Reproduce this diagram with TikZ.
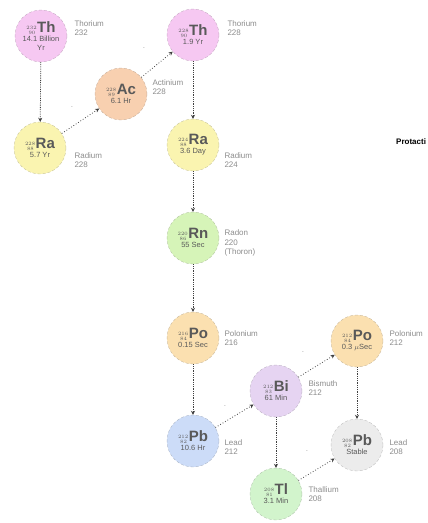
\documentclass[tikz,border=0pt]{standalone}
\usepackage{fontspec}
\setsansfont{Liberation Sans}
\usetikzlibrary{arrows.meta}
\definecolor{thpink}{HTML}{F6C8F2}
\definecolor{acorange}{HTML}{F8D0B0}
\definecolor{rayellow}{HTML}{FAF4B0}
\definecolor{rngreen}{HTML}{D6F4B8}
\definecolor{poorange}{HTML}{FBE0B0}
\definecolor{pbblue}{HTML}{CCDCF8}
\definecolor{bipurple}{HTML}{E6D4F2}
\definecolor{pbgrey}{HTML}{ECECEC}
\definecolor{tlgreen}{HTML}{D2F4CC}
\newcommand{\isotope}[3]{{\fontsize{7.5}{8}\selectfont$^{#1}_{\;#2}$}{\fontsize{15}{15}\selectfont\textbf{#3}}}

\begin{document}
\begin{tikzpicture}[x=1pt,y=-1pt,
  nuclide/.style={circle,minimum size=52pt,inner sep=0pt,draw=#1!60!gray,densely dashed,thin,
    fill=#1,align=center,text=black!65,font=\sffamily\fontsize{7.5}{9}\selectfont},
  elname/.style={anchor=west,align=left,text=black!45,font=\sffamily\fontsize{8}{9.5}\selectfont},
  alphadecay/.style={densely dotted,thick,black!75,-{Stealth[length=4pt,width=4pt]}},
  betadecay/.style={dotted,thick,black!75,-{Stealth[length=4pt,width=4pt]}},
  tickmark/.style={text=black!50,font=\sffamily\tiny}]
   \useasboundingbox (0,0) rectangle (428,523);
   % thorium series, upper part
   \node[nuclide=thpink] (th232) at (41,36) {\isotope{232}{90}{Th}\\14.1 Billion\\Yr};
   \node[nuclide=rayellow] (ra228) at (40,148) {\isotope{228}{88}{Ra}\\5.7 Yr};
   \node[nuclide=acorange] (ac228) at (121,94) {\isotope{228}{89}{Ac}\\6.1 Hr};
   \node[nuclide=thpink] (th228) at (193,35) {\isotope{228}{90}{Th}\\1.9 Yr};
   \node[nuclide=rayellow] (ra224) at (193,145) {\isotope{224}{88}{Ra}\\3.6 Day};
   \node[nuclide=rngreen] (rn220) at (193,238) {\isotope{220}{86}{Rn}\\55 Sec};
   \node[nuclide=poorange] (po216) at (193,338) {\isotope{216}{84}{Po}\\0.15 Sec};
   % branch
   \node[nuclide=pbblue] (pb212) at (193,441) {\isotope{212}{82}{Pb}\\10.6 Hr};
   \node[nuclide=bipurple] (bi212) at (276,391) {\isotope{212}{83}{Bi}\\61 Min};
   \node[nuclide=poorange] (po212) at (357,341) {\isotope{212}{84}{Po}\\0.3 $\mu$Sec};
   \node[nuclide=pbgrey] (pb208) at (357,445) {\isotope{208}{82}{Pb}\\Stable};
   \node[nuclide=tlgreen] (tl208) at (276,494) {\isotope{208}{81}{Tl}\\3.1 Min};

   \node[elname] (th232name) at (71,28) {Thorium\\232};
   \node[elname] (ra228name) at (71,160) {Radium\\228};
   \node[elname] (ac228name) at (149,87) {Actinium\\228};
   \node[elname] (th228name) at (224,28) {Thorium\\228};
   \node[elname] (ra224name) at (221,160) {Radium\\224};
   \node[elname] (rn220name) at (221,243) {Radon\\220\\(Thoron)};
   \node[elname] (po216name) at (221,338) {Polonium\\216};
   \node[elname] (pb212name) at (221,447) {Lead\\212};
   \node[elname] (bi212name) at (305,388) {Bismuth\\212};
   \node[elname] (po212name) at (386,338) {Polonium\\212};
   \node[elname] (pb208name) at (386,447) {Lead\\208};
   \node[elname] (tl208name) at (305,494) {Thallium\\208};

   \node[anchor=west,inner sep=0pt,font=\sffamily\bfseries\fontsize{8}{9}\selectfont] (pa) at (396,142) {Protacti};

   \draw[alphadecay] (th232) -- (ra228);
   \draw[alphadecay] (th228) -- (ra224);
   \draw[alphadecay] (ra224) -- (rn220);
   \draw[alphadecay] (rn220) -- (po216);
   \draw[alphadecay] (po216) -- (pb212);
   \draw[alphadecay] (po212) -- (pb208);
   \draw[alphadecay] (bi212) -- (tl208);
   \draw[betadecay] (ra228) -- (ac228);
   \draw[betadecay] (ac228) -- (th228);
   \draw[betadecay] (pb212) -- (bi212);
   \draw[betadecay] (bi212) -- (po212);
   \draw[betadecay] (tl208) -- (pb208);

   \node[tickmark] (d1) at (72,108) {-};
   \node[tickmark] (d2) at (144,49) {-};
   \node[tickmark] (d3) at (225,407) {-};
   \node[tickmark] (d4) at (303,353) {-};
   \node[tickmark] (d5) at (307,452) {-};
\end{tikzpicture}
\end{document}
